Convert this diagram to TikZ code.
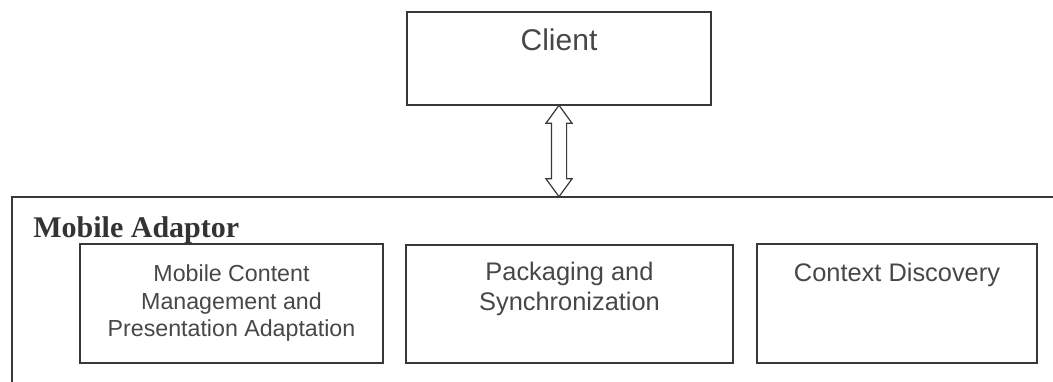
\documentclass[tikz,border=0pt]{standalone}
\usepackage{fontspec}
\setmainfont{Liberation Serif}
\setsansfont{Liberation Sans}
\usetikzlibrary{
    positioning,
    calc,
    shapes.arrows
}

\begin{document}
\begin{tikzpicture}[
        x=0.5pt, y=-0.5pt,
        ink/.style={
            draw=black!78,
            line width=0.6pt
        },
        box/.style={
            ink,
            rectangle,
            inner sep=0pt
        },
        lbl/.style={
            inner sep=0pt,
            align=center,
            text=black!72,
            font=\sffamily
        },
        link/.style={
            ink,
            double arrow,
            fill=white,
            inner xsep=3.5pt,
            inner ysep=0pt,
            double arrow head extend=2.75pt,
            double arrow tip angle=72,
            shape border rotate=90
        }
    ]
        \useasboundingbox (0,0) rectangle (1053,381);
        \clip (0,0) rectangle (1053,381);

        % client on top, adaptor frame below (cut by the page)
        \node[box, minimum width=152pt, minimum height=46.5pt] (client) at (559,58.5) {};
        \node[box, minimum width=546pt, minimum height=103pt] (adaptor) at (558,300) {};
        \node[anchor=base west, inner sep=0pt, text=black!80,
            font=\bfseries\fontsize{15}{18}\selectfont] (title) at (33,237) {Mobile Adaptor};

        % the three parts of the adaptor
        \node[box, minimum width=151.5pt, minimum height=59.5pt] (content) at (231.5,303.5) {};
        \node[box, minimum width=163.5pt, minimum height=59pt] (packaging) at (569.5,304) {};
        \node[box, minimum width=140pt, minimum height=59.5pt] (context) at (897,303.5) {};

        \node[lbl, font=\sffamily\fontsize{15}{18}\selectfont,
            below=8.5pt of client.north] (clientlbl) {Client};
        \node[lbl, font=\sffamily\fontsize{11.6}{13.75}\selectfont,
            below=10.5pt of content.north] (contentlbl)
            {Mobile Content\\Management and\\Presentation Adaptation};
        \node[lbl, font=\sffamily\fontsize{12.7}{15}\selectfont,
            below=8.5pt of packaging.north] (packaginglbl)
            {Packaging and\\Synchronization};
        \node[lbl, font=\sffamily\fontsize{12.7}{15}\selectfont,
            below=9.5pt of context.north] (contextlbl) {Context Discovery};

        % two-way link between client and adaptor
        \path let \p1=($(client.south)-(adaptor.north|-0,197)$), \n1={veclen(\x1,\y1)} in
            node[link, minimum height=\n1]
            (link) at ($(client.south)!0.5!(client.south|-adaptor.north)$) {};
\end{tikzpicture}
\end{document}
